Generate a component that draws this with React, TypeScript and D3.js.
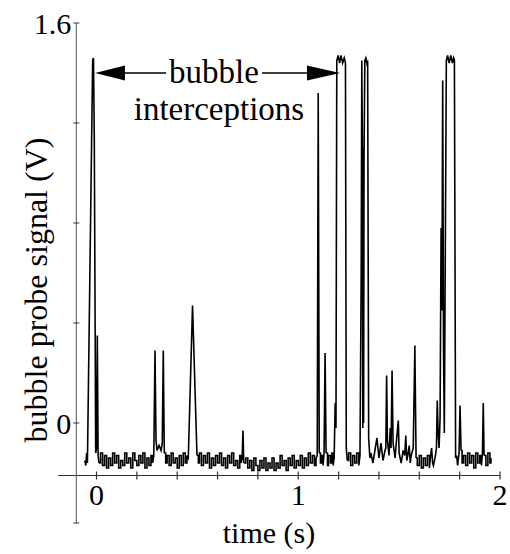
import React from 'react';
import * as d3 from 'd3';

const W = 510;
const H = 554;

// axis ticks (time in s, signal in V)
const xTicks = [0, 0.2, 0.4, 0.6, 0.8, 1, 1.2, 1.4, 1.6, 1.8, 2];
const xTickLabels = [0, 1, 2];
const yTicks = [-0.4, 0, 0.4, 0.8, 1.2, 1.6];
const yTickLabels = [0, 1.6];
const xAxisRange = [-0.19, 2.0];
const yAxisRange = [-0.4, 1.6];
const xAxisAt = -0.21; // V
const yAxisAt = -0.1; // s

// trace pieces [time (s), signal (V)]
const peak0: [number, number][] = [
  [-0.058, -0.15], [-0.053, -0.17], [-0.049, -0.12], [-0.045, -0.16], [-0.019, 1.45], [-0.015, 1.46],
  [-0.011, 1.15], [-0.004, -0.12], [0.0, -0.1], [0.004, 0.35], [0.008, -0.13], [0.012, -0.16],
];
const noise1: [number, number][] = [
  [0.02, -0.12], [0.03, -0.17], [0.04, -0.13], [0.05, -0.18], [0.06, -0.14], [0.07, -0.17], [0.08, -0.12],
  [0.09, -0.16], [0.10, -0.13], [0.11, -0.18], [0.12, -0.15], [0.13, -0.17], [0.14, -0.12], [0.15, -0.16],
  [0.16, -0.14], [0.17, -0.18], [0.18, -0.12], [0.19, -0.15], [0.20, -0.17], [0.21, -0.13], [0.22, -0.16],
  [0.23, -0.12], [0.24, -0.18], [0.25, -0.14], [0.26, -0.17], [0.27, -0.13], [0.278, -0.16],
];
const peakPair: [number, number][] = [
  [0.284, -0.13], [0.29, 0.29], [0.295, -0.07], [0.30, -0.11], [0.31, -0.09], [0.32, -0.11],
  [0.326, -0.08], [0.331, 0.29], [0.336, -0.12],
];
const noise2: [number, number][] = [
  [0.343, -0.16], [0.35, -0.13], [0.36, -0.17], [0.37, -0.12], [0.38, -0.16], [0.39, -0.14], [0.40, -0.18],
  [0.41, -0.13], [0.42, -0.17], [0.43, -0.12], [0.44, -0.16], [0.448, -0.13],
];
const peak47: [number, number][] = [[0.455, -0.14], [0.476, 0.47], [0.498, -0.13]];
const noise3: [number, number][] = [
  [0.505, -0.16], [0.51, -0.12], [0.52, -0.17], [0.53, -0.13], [0.54, -0.16], [0.55, -0.12], [0.56, -0.18],
  [0.57, -0.14], [0.58, -0.17], [0.59, -0.13], [0.60, -0.16], [0.61, -0.12], [0.62, -0.17], [0.63, -0.14],
  [0.64, -0.18], [0.65, -0.13], [0.66, -0.16], [0.67, -0.12], [0.68, -0.17], [0.69, -0.15], [0.70, -0.18],
  [0.71, -0.13], [0.717, -0.16],
];
const spike73: [number, number][] = [[0.722, -0.14], [0.726, -0.03], [0.73, -0.16]];
const noise4: [number, number][] = [
  [0.74, -0.14], [0.75, -0.18], [0.76, -0.15], [0.77, -0.19], [0.78, -0.14], [0.79, -0.17], [0.80, -0.19],
  [0.81, -0.15], [0.82, -0.18], [0.83, -0.14], [0.84, -0.19], [0.85, -0.16], [0.86, -0.18], [0.87, -0.14],
  [0.88, -0.19], [0.89, -0.16], [0.90, -0.18], [0.91, -0.13], [0.92, -0.17], [0.93, -0.15], [0.94, -0.19],
  [0.95, -0.14], [0.96, -0.17], [0.97, -0.13], [0.98, -0.18], [0.99, -0.15], [1.00, -0.17], [1.01, -0.13],
  [1.02, -0.18], [1.03, -0.14], [1.04, -0.17], [1.05, -0.12], [1.06, -0.16], [1.07, -0.13], [1.08, -0.17],
  [1.088, -0.14],
];
const spike110: [number, number][] = [[1.094, -0.13], [1.099, 1.32], [1.104, -0.12]];
const noise5: [number, number][] = [[1.11, -0.16], [1.117, -0.13], [1.123, -0.17]];
const spike113: [number, number][] = [[1.128, -0.12], [1.133, 0.28], [1.138, -0.12]];
const noise6: [number, number][] = [[1.145, -0.17], [1.15, -0.13], [1.16, -0.16], [1.167, -0.12], [1.173, -0.17]];
const bigPeak1: [number, number][] = [
  [1.178, -0.14], [1.183, 0.08], [1.187, -0.02], [1.191, 1.45], [1.198, 1.47], [1.205, 1.44], [1.212, 1.47],
  [1.22, 1.44], [1.228, 1.46], [1.234, 1.44], [1.238, -0.1], [1.243, -0.15],
];
const noise7: [number, number][] = [
  [1.25, -0.12], [1.26, -0.17], [1.27, -0.13], [1.28, -0.16], [1.29, -0.12], [1.30, -0.17],
];
const bigPeak2: [number, number][] = [
  [1.306, -0.13], [1.312, 0.6], [1.315, 1.45], [1.318, 1.1], [1.32, -0.02], [1.322, 1.1], [1.324, 0.0],
  [1.326, 1.05], [1.33, 1.45], [1.335, 1.46], [1.34, 1.44], [1.344, 1.45], [1.349, -0.06], [1.355, -0.14],
];
const busy: [number, number][] = [
  [1.36, -0.12], [1.37, -0.16], [1.38, -0.11], [1.39, -0.06], [1.40, -0.14], [1.41, -0.08], [1.42, -0.15],
  [1.43, -0.11], [1.434, -0.1], [1.438, 0.19], [1.442, -0.07], [1.45, -0.13], [1.456, -0.02], [1.46, -0.1],
  [1.465, 0.21], [1.47, -0.08], [1.48, -0.14], [1.488, -0.06], [1.496, 0.01], [1.50, -0.12], [1.51, -0.16],
  [1.52, -0.11], [1.528, -0.13], [1.533, -0.05], [1.538, -0.15], [1.545, -0.12], [1.55, -0.09], [1.555, -0.16],
  [1.56, -0.13], [1.57, -0.1], [1.578, 0.31], [1.584, -0.14],
];
const noise8: [number, number][] = [
  [1.59, -0.17], [1.60, -0.13], [1.61, -0.18], [1.62, -0.14], [1.63, -0.17], [1.64, -0.13], [1.65, -0.18],
];
const smallBumps: [number, number][] = [
  [1.656, -0.13], [1.661, -0.1], [1.666, -0.16], [1.67, -0.17], [1.68, -0.13], [1.685, -0.1], [1.689, 0.09],
  [1.694, -0.05], [1.698, -0.1],
];
const bigPeak3: [number, number][] = [
  [1.703, 0.02], [1.708, 0.78], [1.712, 0.45], [1.716, 1.37], [1.72, 0.3], [1.724, -0.04], [1.729, 0.7],
  [1.734, 1.45], [1.74, 1.47], [1.748, 1.44], [1.756, 1.47], [1.764, 1.44], [1.77, 1.46], [1.774, 1.45],
  [1.78, -0.14], [1.785, -0.13], [1.79, -0.17], [1.797, -0.12], [1.802, 0.07], [1.807, -0.11],
];
const noise9: [number, number][] = [
  [1.812, -0.16], [1.82, -0.13], [1.83, -0.17], [1.84, -0.12], [1.85, -0.16], [1.86, -0.13], [1.87, -0.18],
  [1.88, -0.12], [1.89, -0.16], [1.90, -0.13], [1.908, -0.17],
];
const spike192: [number, number][] = [[1.913, -0.12], [1.917, 0.08], [1.921, -0.13]];
const noise10: [number, number][] = [[1.93, -0.17], [1.94, -0.12], [1.95, -0.16], [1.955, -0.14]];

// which pieces are drawn as a sampled (stepped) baseline
const pieces: { pts: [number, number][]; stepped: boolean }[] = [
  { pts: peak0, stepped: false },
  { pts: noise1, stepped: true },
  { pts: peakPair, stepped: false },
  { pts: noise2, stepped: true },
  { pts: peak47, stepped: false },
  { pts: noise3, stepped: true },
  { pts: spike73, stepped: false },
  { pts: noise4, stepped: true },
  { pts: spike110, stepped: false },
  { pts: noise5, stepped: true },
  { pts: spike113, stepped: false },
  { pts: noise6, stepped: true },
  { pts: bigPeak1, stepped: false },
  { pts: noise7, stepped: true },
  { pts: bigPeak2, stepped: false },
  { pts: busy, stepped: false },
  { pts: noise8, stepped: true },
  { pts: smallBumps, stepped: false },
  { pts: bigPeak3, stepped: false },
  { pts: noise9, stepped: true },
  { pts: spike192, stepped: false },
  { pts: noise10, stepped: true },
];

function Label(props: { x: number; y: number; size: number; anchor?: string; transform?: string; children: React.ReactNode }) {
  return (
    <text
      x={props.x}
      y={props.y}
      transform={props.transform}
      textAnchor={props.anchor || 'middle'}
      fontSize={props.size}
      style={{ fontFamily: 'serif' }}
    >
      {props.children}
    </text>
  );
}

export default function App() {
  const x = d3.scaleLinear().domain([0, 2]).range([96.5, 500]);
  const y = d3.scaleLinear().domain([0, 1.6]).range([423, 23]);
  const linear = d3.line<[number, number]>().x((d) => x(d[0])).y((d) => y(d[1]));
  const stepped = d3
    .line<[number, number]>()
    .x((d) => x(d[0]))
    .y((d) => y(d[1]))
    .curve(d3.curveStepAfter);

  let d = '';
  let prev: [number, number] | null = null;
  for (const p of pieces) {
    const pts = prev ? [prev, ...p.pts] : p.pts;
    d += (p.stepped ? stepped(pts) : linear(pts)) || '';
    prev = p.pts[p.pts.length - 1];
  }

  const arrowY = y(1.4);
  const leftTip = x(-0.007);
  const leftBase = x(0.141);
  const rightBase = x(1.043);
  const rightTip = x(1.207);

  return (
    <svg width={W} height={H} style={{ position: 'absolute', left: 0, top: 0, background: '#fff' }}>
      {/* axes */}
      <line x1={x(xAxisRange[0])} x2={x(xAxisRange[1])} y1={y(xAxisAt)} y2={y(xAxisAt)} stroke="#333" strokeWidth={1.2} />
      <line x1={x(yAxisAt)} x2={x(yAxisAt)} y1={y(yAxisRange[0])} y2={y(yAxisRange[1])} stroke="#555" strokeWidth={1} />
      {xTicks.map((t) => (
        <line key={'xt' + t} x1={x(t)} x2={x(t)} y1={y(xAxisAt) - 4} y2={y(xAxisAt) + 4} stroke="#333" strokeWidth={1.2} />
      ))}
      {yTicks.map((v) => (
        <line key={'yt' + v} x1={x(yAxisAt) - 3} x2={x(yAxisAt) + 3} y1={y(v)} y2={y(v)} stroke="#333" strokeWidth={1} />
      ))}
      {xTickLabels.map((t) => (
        <Label key={'xl' + t} x={x(t)} y={y(xAxisAt) + 29} size={30}>
          {t}
        </Label>
      ))}
      {yTickLabels.map((v) => (
        <Label key={'yl' + v} x={x(yAxisAt) - 5} y={y(v) + 11} size={30} anchor="end">
          {v}
        </Label>
      ))}
      <Label x={x(0.855)} y={543} size={30}>
        time (s)
      </Label>
      <Label x={0} y={0} size={32} transform={`translate(${47},${290}) rotate(-90)`}>
        bubble probe signal (V)
      </Label>

      {/* trace */}
      <path d={d} fill="none" stroke="#000" strokeWidth={1.6} strokeLinejoin="miter" />

      {/* annotation */}
      <line x1={leftBase} x2={x(0.345)} y1={arrowY} y2={arrowY} stroke="#000" strokeWidth={1.6} />
      <line x1={x(0.82)} x2={rightBase} y1={arrowY} y2={arrowY} stroke="#000" strokeWidth={1.6} />
      <path d={`M${leftTip},${arrowY} L${leftBase},${arrowY - 7.5} L${leftBase},${arrowY + 7.5} Z`} fill="#000" />
      <path d={`M${rightTip},${arrowY} L${rightBase},${arrowY - 7.5} L${rightBase},${arrowY + 7.5} Z`} fill="#000" />
      <Label x={x(0.582)} y={y(1.36)} size={33}>
        bubble
      </Label>
      <Label x={x(0.607)} y={y(1.212)} size={33}>
        interceptions
      </Label>
    </svg>
  );
}
